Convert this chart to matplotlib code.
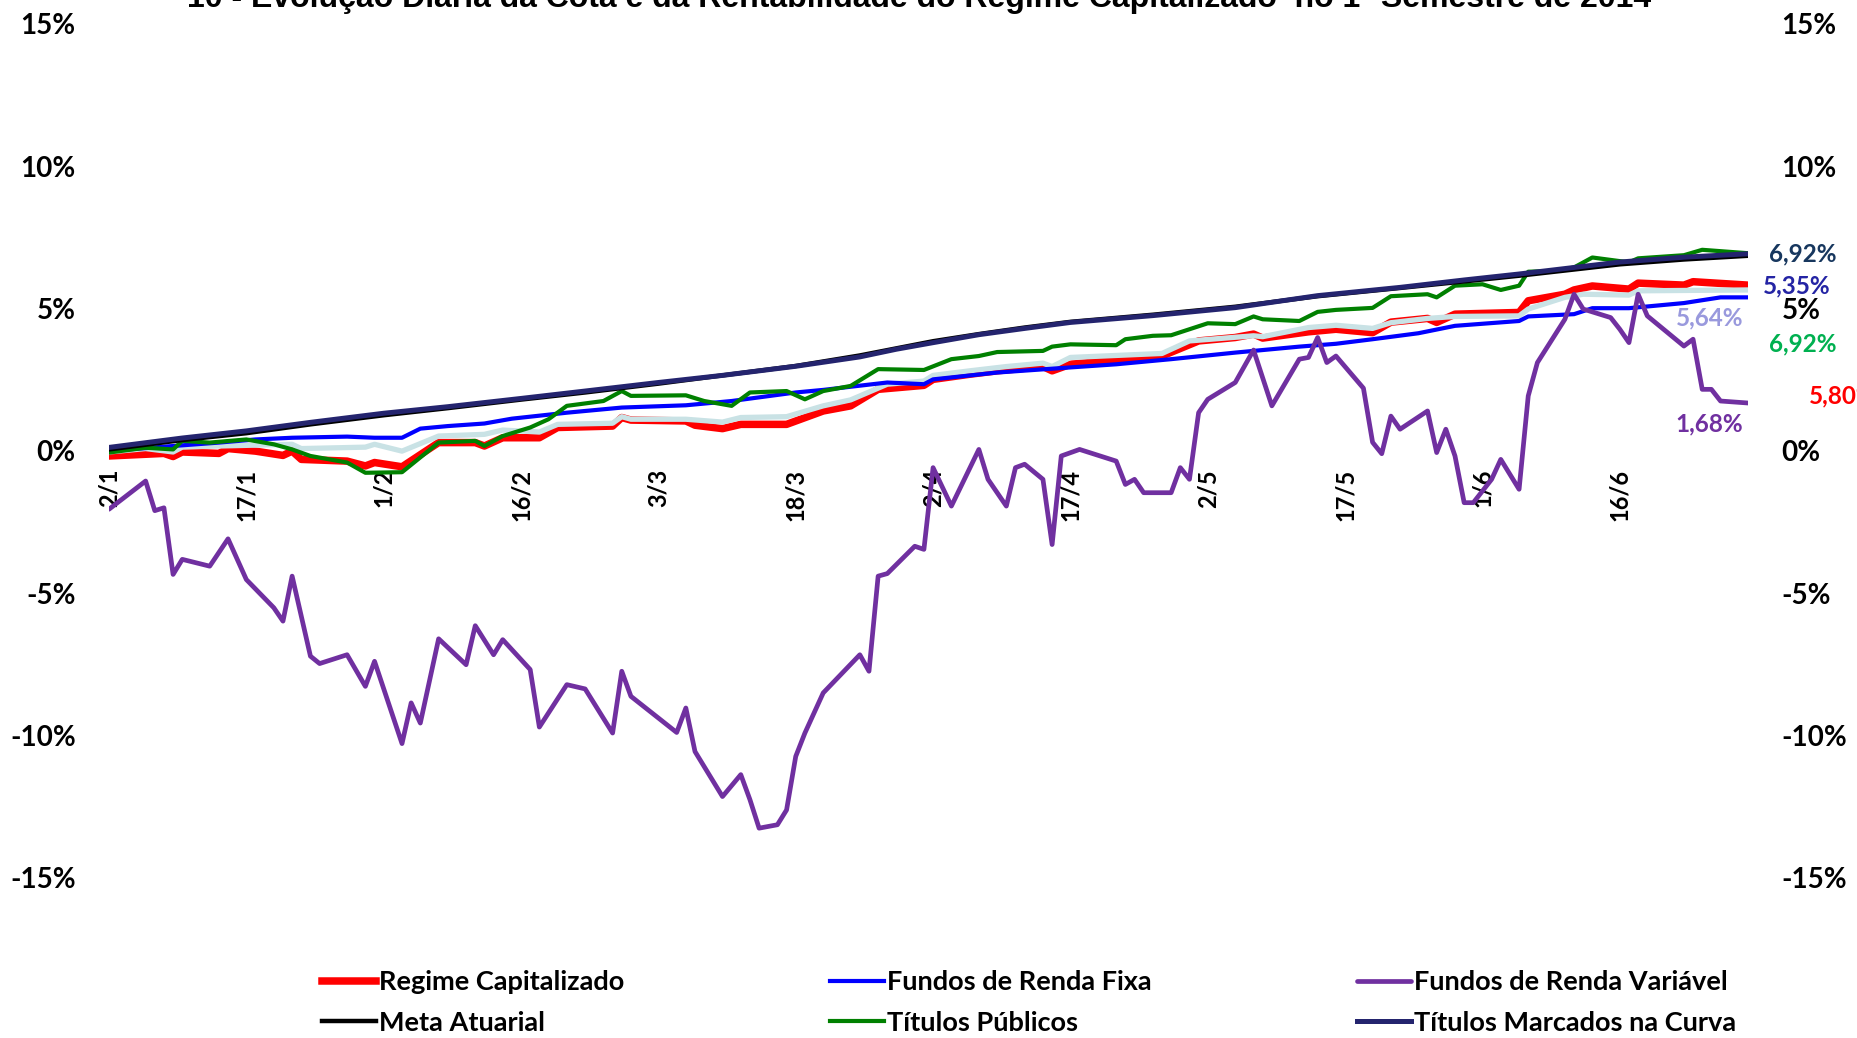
import matplotlib
matplotlib.use('Agg')
import matplotlib.pyplot as plt

plt.rcParams['font.family'] = ['Lato', 'DejaVu Sans']
plt.rcParams['font.weight'] = 'bold'

# day offsets counted from 2/1/2014, values in %
rc_days = [0, 6, 7, 8, 12, 13, 16, 19, 20, 21, 26, 28, 29, 32, 36, 40, 41, 43, 47, 49, 55, 56, 57, 63, 64, 67, 69, 74,
           78, 81, 84, 89, 90, 94, 97, 102, 103, 105, 115, 119, 123, 125, 126, 131, 134, 138, 140, 144, 145, 147,
           154, 155, 159, 160, 162, 166, 167, 172, 173, 179]
rc_vals = [-0.18, -0.09, -0.20, -0.04, -0.09, 0.08, -0.01, -0.16, -0.01, -0.30, -0.36, -0.53, -0.41, -0.56, 0.29,
           0.29, 0.17, 0.46, 0.46, 0.82, 0.87, 1.17, 1.08, 1.05, 0.90, 0.78, 0.93, 0.93, 1.40, 1.58, 2.16, 2.30,
           2.51, 2.69, 2.81, 2.96, 2.81, 3.04, 3.33, 3.86, 3.98, 4.10, 3.96, 4.18, 4.27, 4.15, 4.52, 4.65, 4.51,
           4.80, 4.86, 5.27, 5.50, 5.65, 5.79, 5.68, 5.89, 5.82, 5.94, 5.82]

cota_days = [0, 4, 7, 8, 12, 20, 21, 28, 29, 32, 36, 41, 43, 47, 49, 55, 56, 57, 63, 67, 69, 74, 78, 81, 85, 89, 90,
             94, 98, 102, 103, 105, 115, 118, 125, 126, 131, 134, 138, 140, 144, 147, 154, 155, 159, 161, 166,
             167, 179]
cota_vals = [-0.04, 0.08, -0.04, 0.13, 0.17, 0.23, 0.08, 0.13, 0.23, -0.01, 0.52, 0.58, 0.73, 0.66, 0.93, 0.97,
             1.20, 1.11, 1.11, 1.01, 1.17, 1.20, 1.58, 1.79, 2.34, 2.45, 2.65, 2.81, 2.96, 3.08, 2.96, 3.28, 3.42,
             3.86, 4.04, 4.01, 4.33, 4.41, 4.30, 4.50, 4.65, 4.72, 4.74, 4.98, 5.39, 5.50, 5.47, 5.62, 5.65]

rf_days = [0, 7, 12, 16, 20, 26, 29, 32, 34, 37, 41, 44, 50, 56, 63, 68, 75, 78, 85, 89, 90, 97, 105, 110, 116, 123,
           130, 134, 138, 143, 147, 154, 155, 160, 162, 166, 172, 176, 179]
rf_vals = [0.0, 0.17, 0.29, 0.40, 0.46, 0.50, 0.46, 0.46, 0.78, 0.87, 0.96, 1.13, 1.34, 1.52, 1.60, 1.75, 2.05,
           2.14, 2.40, 2.34, 2.51, 2.75, 2.93, 3.04, 3.22, 3.45, 3.66, 3.76, 3.92, 4.13, 4.39, 4.56, 4.72, 4.80,
           5.01, 5.01, 5.19, 5.39, 5.39]

tp_days = [0, 4, 7, 8, 11, 15, 18, 20, 22, 26, 28, 32, 36, 40, 41, 43, 46, 48, 50, 54, 56, 57, 63, 65, 68, 70, 74,
           76, 78, 81, 84, 89, 92, 95, 97, 102, 103, 105, 110, 111, 114, 116, 118, 120, 123, 125, 126, 130, 132,
           134, 138, 140, 144, 145, 147, 150, 152, 154, 155, 158, 160, 162, 166, 167, 172, 174, 179]
tp_vals = [-0.06, 0.11, 0.05, 0.35, 0.29, 0.40, 0.23, 0.05, -0.18, -0.41, -0.77, -0.75, 0.29, 0.35, 0.17, 0.52,
           0.82, 1.11, 1.58, 1.75, 2.10, 1.93, 1.95, 1.75, 1.58, 2.05, 2.10, 1.81, 2.10, 2.28, 2.87, 2.84, 3.22,
           3.33, 3.47, 3.51, 3.66, 3.74, 3.71, 3.92, 4.04, 4.06, 4.27, 4.48, 4.45, 4.72, 4.62, 4.56, 4.88, 4.95,
           5.02, 5.43, 5.50, 5.39, 5.80, 5.85, 5.65, 5.80, 6.29, 6.32, 6.44, 6.79, 6.62, 6.76, 6.87, 7.06, 6.94]

ma_days = [0, 8, 15, 22, 30, 37, 45, 52, 60, 67, 75, 82, 86, 90, 95, 100, 105, 114, 123, 132, 141, 148, 154, 165,
           172, 179]
ma_vals = [0.05, 0.38, 0.62, 0.93, 1.25, 1.50, 1.80, 2.05, 2.36, 2.65, 2.98, 3.35, 3.60, 3.85, 4.10, 4.33, 4.53,
           4.78, 5.06, 5.43, 5.72, 5.95, 6.15, 6.55, 6.72, 6.85]

tmc_days = [0, 8, 15, 22, 30, 37, 45, 52, 60, 67, 75, 82, 86, 90, 95, 100, 105, 114, 123, 132, 141, 148, 154, 165,
            172, 179]
tmc_vals = [0.12, 0.45, 0.70, 1.00, 1.32, 1.55, 1.84, 2.10, 2.40, 2.65, 2.97, 3.30, 3.57, 3.80, 4.08, 4.30, 4.51,
            4.75, 5.03, 5.45, 5.74, 6.00, 6.21, 6.63, 6.80, 6.92]

rv_days = [0, 4, 5, 6, 7, 8, 11, 13, 15, 18, 19, 20, 22, 23, 26, 28, 29, 32, 33, 34, 36, 39, 40, 42, 43, 46, 47, 50,
           52, 55, 56, 57, 62, 63, 64, 67, 69, 70, 71, 73, 74, 75, 76, 78, 82, 83, 84, 85, 88, 89, 90, 92, 95, 96,
           98, 99, 100, 102, 103, 104, 106, 110, 111, 112, 113, 116, 117, 118, 119, 120, 123, 125, 127, 130, 131,
           132, 133, 134, 137, 138, 139, 140, 141, 144, 145, 146, 147, 148, 149, 151, 152, 154, 155, 156, 159, 160,
           161, 164, 165, 166, 167, 168, 172, 173, 174, 175, 176, 179]
rv_vals = [-2.05, -1.06, -2.10, -2.00, -4.34, -3.81, -4.05, -3.09, -4.52, -5.51, -5.98, -4.40, -7.21, -7.47, -7.16,
           -8.27, -7.39, -10.28, -8.85, -9.56, -6.60, -7.51, -6.14, -7.16, -6.63, -7.68, -9.70, -8.21, -8.36, -9.91,
           -7.74, -8.62, -9.89, -9.03, -10.56, -12.14, -11.37, -12.25, -13.25, -13.13, -12.61, -10.73, -9.91,
           -8.50, -7.16, -7.74, -4.40, -4.31, -3.35, -3.46, -0.59, -1.94, 0.05, -1.00, -1.94, -0.59, -0.47, -1.00,
           -3.29, -0.18, 0.05, -0.36, -1.18, -1.00, -1.47, -1.47, -0.59, -1.00, 1.34, 1.81, 2.40, 3.54, 1.58,
           3.22, 3.28, 3.98, 3.10, 3.33, 2.20, 0.30, -0.10, 1.22, 0.76, 1.40, -0.06, 0.76, -0.18, -1.82, -1.82,
           -1.00, -0.30, -1.35, 1.93, 3.10, 4.62, 5.50, 4.98, 4.68, 4.27, 3.80, 5.50, 4.74, 3.68, 3.92, 2.16, 2.16,
           1.75, 1.68]

tick_days = [0, 15, 30, 45, 60, 75, 90, 105, 120, 135, 150, 165]
tick_labels = ['2/1', '17/1', '1/2', '16/2', '3/3', '18/3', '2/4', '17/4', '2/5', '17/5', '1/6', '16/6']
y_ticks = [-15, -10, -5, 0, 5, 10, 15]

fig = plt.figure(figsize=(18.58, 10.38), dpi=100)
ax = fig.add_axes([109 / 1858, 1 - 878 / 1038, (1748 - 109) / 1858, (878 - 23.7) / 1038])

ln_rc, = ax.plot(rc_days, rc_vals, color='#FF0000', lw=5.4, solid_joinstyle='round', label='Regime Capitalizado')
ax.plot(cota_days, cota_vals, color='#C9E2E5', lw=3.8, solid_joinstyle='round')
ln_rf, = ax.plot(rf_days, rf_vals, color='#0000FF', lw=3.0, solid_joinstyle='round', label='Fundos de Renda Fixa')
ln_tp, = ax.plot(tp_days, tp_vals, color='#008000', lw=3.0, solid_joinstyle='round', label='Títulos Públicos')
ln_ma, = ax.plot(ma_days, ma_vals, color='#000000', lw=3.2, solid_joinstyle='round', label='Meta Atuarial')
ln_tmc, = ax.plot(tmc_days, tmc_vals, color='#24246E', lw=3.6, solid_joinstyle='round',
                  label='Títulos Marcados na Curva')
ln_rv, = ax.plot(rv_days, rv_vals, color='#7030A0', lw=3.4, solid_joinstyle='round', solid_capstyle='round',
                 label='Fundos de Renda Variável')

ax.set_xlim(0, 179)
ax.set_ylim(-15, 15)
for s in ax.spines.values():
    s.set_visible(False)
ax.spines['bottom'].set_position(('data', 0))

ax.set_xticks(tick_days, tick_labels, rotation=90, fontsize=17, fontweight='bold')
ax.set_yticks(y_ticks, [f'{v}%' for v in y_ticks], fontsize=20, fontweight='bold')
ax.tick_params(axis='x', length=0, pad=13)
ax.tick_params(axis='y', length=0, pad=24, labelright=True)

# end-of-series labels
end_labels = [
    (181.3, 6.91, '6,92%', '#17375E'),
    (180.6, 5.78, '5,35%', '#2424A4'),
    (171.1, 4.66, '5,64%', '#9999DD'),
    (181.3, 3.74, '6,92%', '#00B050'),
    (185.7, 1.92, '5,80%', '#FF0000'),
    (171.1, 0.93, '1,68%', '#7030A0'),
]
for x, y, txt, c in end_labels:
    ax.text(x, y, txt, color=c, fontsize=17.5, fontweight='bold', ha='left', va='center', clip_on=False)

fig.text(919 / 1858, 1 - 7 / 1038, '10 - Evolução Diária da Cota e da Rentabilidade do Regime Capitalizado  no 1º Semestre de 2014',
         ha='center', va='baseline', fontsize=23, fontweight='bold', family=['Liberation Sans', 'DejaVu Sans'])

handles = [ln_rc, ln_ma, ln_rf, ln_tp, ln_rv, ln_tmc]
fig.legend(handles, [h.get_label() for h in handles], ncol=3, loc='upper left',
           bbox_to_anchor=(322 / 1858, 1 - 970 / 1038), frameon=False,
           prop={'weight': 'bold', 'size': 19.5}, handlelength=2.0, handletextpad=0.1,
           columnspacing=7.6, labelspacing=0.62, borderpad=0, borderaxespad=0)

fig.savefig('out.png', dpi=100)
